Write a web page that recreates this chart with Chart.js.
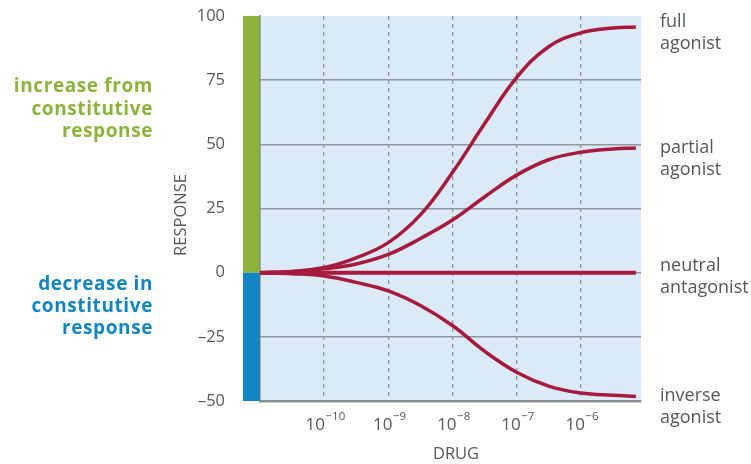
<!DOCTYPE html>
<html>
<head>
<meta charset="utf-8">
<title>Drug response curves</title>
<script src="https://cdn.jsdelivr.net/npm/chart.js@4/dist/chart.umd.min.js"></script>
<style>
  html, body { margin: 0; padding: 0; background: #ffffff; }
  canvas { display: block; }
</style>
</head>
<body>
<canvas id="chart" width="751" height="464"></canvas>
<script>
// Drug concentration as log10 (mol/L)
const logDose = [-11, -10.5, -10, -9.5, -9, -8.5, -8, -7.5, -7, -6.5, -6, -5.5, -5.14];

// Response (%) for each ligand type
const fullAgonist    = [0, 0.5, 2, 5.8, 11.7, 22.5, 39, 58, 76, 88, 93.4, 95.3, 95.7];
const partialAgonist = [0, 0.4, 1.5, 3.4, 7.1, 13.3, 20.5, 29.5, 38, 44, 46.9, 48.2, 48.6];
const neutralAntag   = [0, 0, 0, 0, 0, 0, 0, 0, 0, 0, 0, 0, 0];
const inverseAgonist = [0, -0.4, -1.3, -3.8, -7.1, -12.8, -20.6, -30.6, -38.8, -44.2, -46.9, -47.8, -48.2];

// Axis ticks
const xTickExponents = [-10, -9, -8, -7, -6];
const yTicks = [100, 75, 50, 25, 0, -25, -50];

// Curve names printed at the right
const curveNames = [
  ['full', 'agonist'],
  ['partial', 'agonist'],
  ['neutral', 'antagonist'],
  ['inverse', 'agonist']
];

const FONT = '"Open Sans", "Noto Sans", sans-serif';
const TEXT = '#55595c';
const CURVE = '#a51a3d';
const GRID = '#8f979d';
const GREEN = '#8cb43c';
const BLUE = '#1385c2';

function toPoints(ys) {
  return ys.map((y, i) => ({ x: logDose[i], y: y }));
}

const decor = {
  id: 'decor',
  beforeDraw(chart) {
    const { ctx, chartArea: a } = chart;
    ctx.save();
    ctx.fillStyle = '#dce9f6';
    ctx.fillRect(a.left, a.top, a.right - a.left, a.bottom - a.top);
    ctx.restore();
  },
  afterDraw(chart) {
    const { ctx, chartArea: a, scales: { x, y } } = chart;
    ctx.save();

    // Increase / decrease band along the response axis
    const y100 = y.getPixelForValue(100), y0 = y.getPixelForValue(0), yMin = y.getPixelForValue(-50);
    ctx.fillStyle = GREEN;
    ctx.fillRect(a.left - 17, y100, 16.5, y0 - y100);
    ctx.fillStyle = BLUE;
    ctx.fillRect(a.left - 17, y0, 16.5, yMin - y0);

    // Concentration tick labels: 10 with a superscript exponent
    ctx.fillStyle = TEXT;
    ctx.textBaseline = 'middle';
    xTickExponents.forEach(e => {
      const px = x.getPixelForValue(e);
      ctx.font = '17px ' + FONT;
      const base = '10';
      const wb = ctx.measureText(base).width;
      ctx.font = '11.5px ' + FONT;
      const sup = '\u2212' + Math.abs(e);
      const ws = ctx.measureText(sup).width;
      const left = px - (wb + ws) / 2 + 1;
      ctx.textAlign = 'left';
      ctx.font = '17px ' + FONT;
      ctx.fillText(base, left, 425);
      ctx.font = '11.5px ' + FONT;
      ctx.fillText(sup, left + wb + 0.5, 417);
    });

    // Axis titles
    ctx.font = '16.5px ' + FONT;
    ctx.textAlign = 'center';
    ctx.fillText('DRUG', 456, 454);
    ctx.save();
    ctx.translate(181, 215);
    ctx.rotate(-Math.PI / 2);
    ctx.fillText('RESPONSE', 0, 0);
    ctx.restore();

    // Curve names
    ctx.textAlign = 'left';
    ctx.font = '18px ' + FONT;
    const nameRows = [[22, 44], [148, 170], [266, 288], [396, 418]];
    curveNames.forEach((lines, i) => {
      lines.forEach((t, j) => ctx.fillText(t, 660, nameRows[i][j]));
    });

    // Side notes on the response direction
    ctx.textAlign = 'right';
    ctx.font = 'bold 19px ' + FONT;
    ctx.letterSpacing = '0.6px';
    ctx.fillStyle = GREEN;
    ['increase from', 'constitutive', 'response'].forEach((t, i) => ctx.fillText(t, 153, 87 + i * 22.5));
    ctx.fillStyle = BLUE;
    ['decrease in', 'constitutive', 'response'].forEach((t, i) => ctx.fillText(t, 153, 285 + i * 22));

    ctx.restore();
  }
};

const lineStyle = {
  borderColor: CURVE,
  borderWidth: 3.5,
  pointRadius: 0,
  fill: false,
  tension: 0.4
};

new Chart(document.getElementById('chart'), {
  type: 'line',
  data: {
    datasets: [
      Object.assign({ label: 'full agonist', data: toPoints(fullAgonist) }, lineStyle),
      Object.assign({ label: 'partial agonist', data: toPoints(partialAgonist) }, lineStyle),
      Object.assign({ label: 'neutral antagonist', data: toPoints(neutralAntag) }, lineStyle, { borderWidth: 4 }),
      Object.assign({ label: 'inverse agonist', data: toPoints(inverseAgonist) }, lineStyle)
    ]
  },
  options: {
    responsive: false,
    animation: false,
    events: [],
    layout: { padding: { top: 16, right: 110, left: 0, bottom: 0 } },
    plugins: { legend: { display: false }, tooltip: { enabled: false } },
    scales: {
      x: {
        type: 'linear',
        min: -11,
        max: -5.06,
        afterBuildTicks: s => { s.ticks = xTickExponents.map(v => ({ value: v })); },
        afterFit: s => { s.height = 63; s.paddingLeft = 0; s.paddingRight = 0; },
        ticks: { display: false },
        grid: { color: GRID, lineWidth: 1.3, drawTicks: false },
        border: { display: true, color: '#8a9196', width: 2.5, dash: [4, 4] }
      },
      y: {
        min: -50,
        max: 100,
        afterBuildTicks: s => { s.ticks = yTicks.map(v => ({ value: v })); },
        afterFit: s => { s.width = 260; s.paddingTop = 0; s.paddingBottom = 0; },
        ticks: {
          padding: 35,
          color: TEXT,
          font: { family: FONT, size: 16.5 },
          callback: v => (v < 0 ? '\u2013' + Math.abs(v) : String(v))
        },
        grid: {
          drawTicks: false,
          lineWidth: 1.5,
          color: c => (c.tick && c.tick.value === 100 ? 'rgba(0,0,0,0)' : GRID)
        },
        border: { display: true, color: '#6e767b', width: 1.5 }
      }
    }
  },
  plugins: [decor]
});
</script>
</body>
</html>
